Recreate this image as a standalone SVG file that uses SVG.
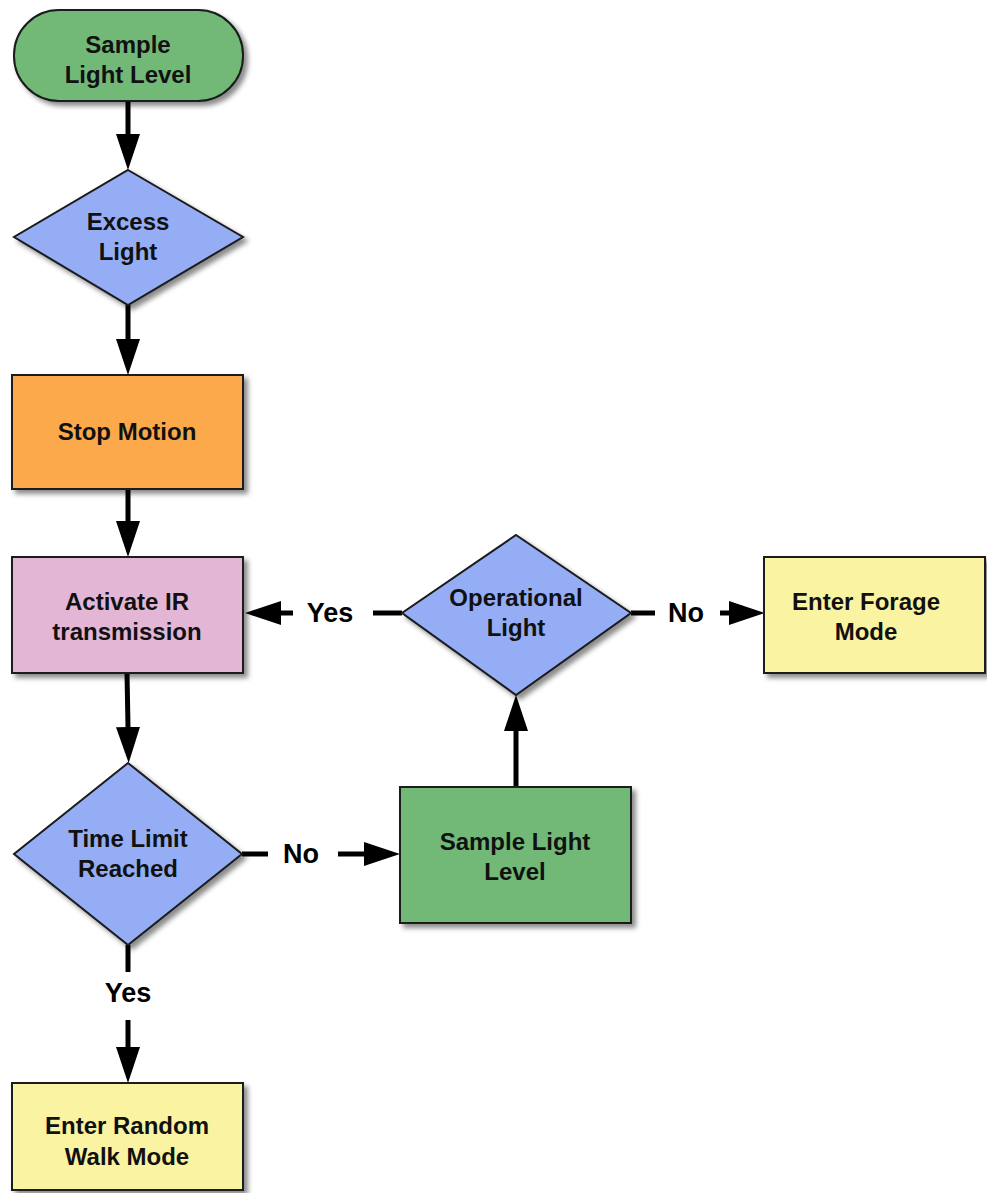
<svg xmlns="http://www.w3.org/2000/svg" width="987" height="1193" viewBox="0 0 987 1193">
<defs>
<filter id="sh" x="-10%" y="-10%" width="130%" height="130%">
<feDropShadow dx="4" dy="4" stdDeviation="2.5" flood-color="#000" flood-opacity="0.45"/>
</filter>
<marker id="ah" markerUnits="userSpaceOnUse" markerWidth="36" markerHeight="26" refX="0" refY="12" orient="auto">
<path d="M0,0 L36,12 L0,24 z" fill="#000"/>
</marker>
</defs>
<style>
.n{stroke:#1a1a1a;stroke-width:2;filter:url(#sh)}
.t{font-family:"Liberation Sans",Arial,sans-serif;font-weight:bold;font-size:24px;fill:#111;text-anchor:middle}
.l{font-family:"Liberation Sans",Arial,sans-serif;font-weight:bold;font-size:27px;fill:#000;text-anchor:middle}
.c{stroke:#000;stroke-width:5;fill:none}
.green{fill:#72b978}.blue{fill:#95adf5}.orange{fill:#fba94b}.pink{fill:#e3b6d6}.yellow{fill:#faf4a2}
</style>
<rect width="987" height="1193" fill="#fff"/>
<g id="connectors">
<line class="c" x1="128" y1="101" x2="128" y2="134" marker-end="url(#ah)"/>
<line class="c" x1="128" y1="305" x2="128" y2="339" marker-end="url(#ah)"/>
<line class="c" x1="128" y1="489" x2="128" y2="521" marker-end="url(#ah)"/>
<line class="c" x1="127" y1="673" x2="128" y2="727" marker-end="url(#ah)"/>
<line class="c" x1="242" y1="854" x2="268" y2="854"/>
<text class="l" x="301" y="863">No</text>
<line class="c" x1="338" y1="854" x2="364" y2="854" marker-end="url(#ah)"/>
<line class="c" x1="516" y1="787" x2="516" y2="731" marker-end="url(#ah)"/>
<line class="c" x1="402" y1="613" x2="373" y2="613"/>
<text class="l" x="330" y="622">Yes</text>
<line class="c" x1="293" y1="613" x2="281" y2="613" marker-end="url(#ah)"/>
<line class="c" x1="631" y1="613" x2="655" y2="613"/>
<text class="l" x="686" y="622">No</text>
<line class="c" x1="720" y1="613" x2="729" y2="613" marker-end="url(#ah)"/>
<line class="c" x1="128" y1="945" x2="128" y2="972"/>
<text class="l" x="128" y="1002">Yes</text>
<line class="c" x1="128" y1="1020" x2="128" y2="1047" marker-end="url(#ah)"/>
</g>
<g id="start">
<rect class="n green" x="14" y="10" width="229" height="91" rx="45" ry="45"/>
<text class="t" x="128" y="53">Sample</text>
<text class="t" x="128" y="83">Light Level</text>
</g>
<g id="excess">
<polygon class="n blue" points="128,170 243,237 128,305 14,237"/>
<text class="t" x="128" y="230">Excess</text>
<text class="t" x="128" y="260">Light</text>
</g>
<g id="stop">
<rect class="n orange" x="12" y="375" width="231" height="114"/>
<text class="t" x="127" y="440">Stop Motion</text>
</g>
<g id="activate">
<rect class="n pink" x="12" y="557" width="231" height="116"/>
<text class="t" x="127" y="610">Activate IR</text>
<text class="t" x="127" y="640">transmission</text>
</g>
<g id="operational">
<polygon class="n blue" points="516,535 631,613 516,695 402,613"/>
<text class="t" x="516" y="606">Operational</text>
<text class="t" x="516" y="636">Light</text>
</g>
<g id="forage">
<rect class="n yellow" x="764" y="557" width="221" height="116"/>
<text class="t" x="866" y="610">Enter Forage</text>
<text class="t" x="866" y="640">Mode</text>
</g>
<g id="timelimit">
<polygon class="n blue" points="128,763 242,854 128,945 14,854"/>
<text class="t" x="128" y="847">Time Limit</text>
<text class="t" x="128" y="877">Reached</text>
</g>
<g id="sample2">
<rect class="n green" x="400" y="787" width="231" height="136"/>
<text class="t" x="515" y="850">Sample Light</text>
<text class="t" x="515" y="880">Level</text>
</g>
<g id="randomwalk">
<rect class="n yellow" x="12" y="1083" width="231" height="107"/>
<text class="t" x="127" y="1134">Enter Random</text>
<text class="t" x="127" y="1165">Walk Mode</text>
</g>
</svg>
